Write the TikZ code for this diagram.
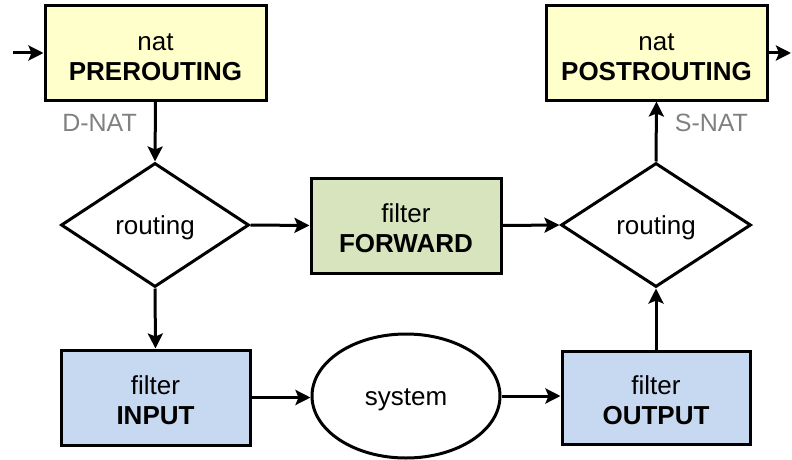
\documentclass[tikz,border=0pt]{standalone}
\usepackage{fontspec}
\setmainfont{Liberation Sans}
\usetikzlibrary{shapes.geometric,arrows.meta}
\definecolor{natfill}{HTML}{FFFFCC}
\definecolor{fwdfill}{HTML}{D7E4BD}
\definecolor{iofill}{HTML}{C6D9F0}
\definecolor{labelgray}{HTML}{808080}
% tall strut on the first text line, so the text sits a little low in its shape
\newcommand{\topstrut}{\rule{0pt}{25pt}}
\tikzset{
  chain/.style={draw, line width=3pt, inner sep=0pt, align=center,
    font=\fontsize{26}{30}\selectfont},
  tablebox/.style={chain, rectangle},
  decide/.style={chain, diamond, fill=white},
  flow/.style={line width=3pt, -{Stealth[length=15pt,width=15pt,inset=3pt]}},
  natlabel/.style={text=labelgray, font=\fontsize{25}{30}\selectfont, inner sep=0pt}
}
\begin{document}
\begin{tikzpicture}[x=1pt,y=-1pt]
  \useasboundingbox (0,0) rectangle (792,460);

  % netfilter chains
  \node[tablebox, fill=natfill, minimum width=221pt, minimum height=94pt] (pre) at (155.5,53)
    {\topstrut nat\\\textbf{PREROUTING}};
  \node[tablebox, fill=natfill, minimum width=221pt, minimum height=94pt] (post) at (656.5,53)
    {\topstrut nat\\\textbf{POSTROUTING}};
  \node[decide, minimum width=188pt, minimum height=124pt] (r1) at (155,225) {\topstrut routing};
  \node[decide, minimum width=190pt, minimum height=124pt] (r2) at (656,225) {\topstrut routing};
  \node[tablebox, fill=fwdfill, minimum width=190pt, minimum height=95pt] (fwd) at (406,225.5)
    {\topstrut filter\\\textbf{FORWARD}};
  \node[tablebox, fill=iofill, minimum width=189pt, minimum height=95pt] (inp) at (155.5,397.5)
    {\topstrut filter\\\textbf{INPUT}};
  \node[chain, ellipse, minimum width=188pt, minimum height=124pt] (sys) at (406,396) {\topstrut system};
  \node[tablebox, fill=iofill, minimum width=188pt, minimum height=93pt] (out) at (656,397.5)
    {\topstrut filter\\\textbf{OUTPUT}};

  % packet entry and exit points
  \coordinate (in) at (13,53);
  \coordinate (exit) at (791,53);

  % packet flow
  \draw[flow] (in) -- (pre.west);
  \draw[flow] (pre.south) -- node[natlabel, left=17pt, pos=0.35] {D-NAT} (r1.north);
  \draw[flow] (r1.east) -- (fwd.west);
  \draw[flow] (r1.south) -- (inp.north);
  \draw[flow] (inp.east) -- (inp.east -| sys.west);
  \draw[flow] (sys.east) -- (sys.east -| out.west);
  \draw[flow] (out.north) -- (r2.south);
  \draw[flow] (fwd.east) -- (r2.west);
  \draw[flow] (r2.north) -- node[natlabel, right=17pt, pos=0.65] {S-NAT} (post.south);
  \draw[flow] (post.east) -- (exit);
\end{tikzpicture}
\end{document}
